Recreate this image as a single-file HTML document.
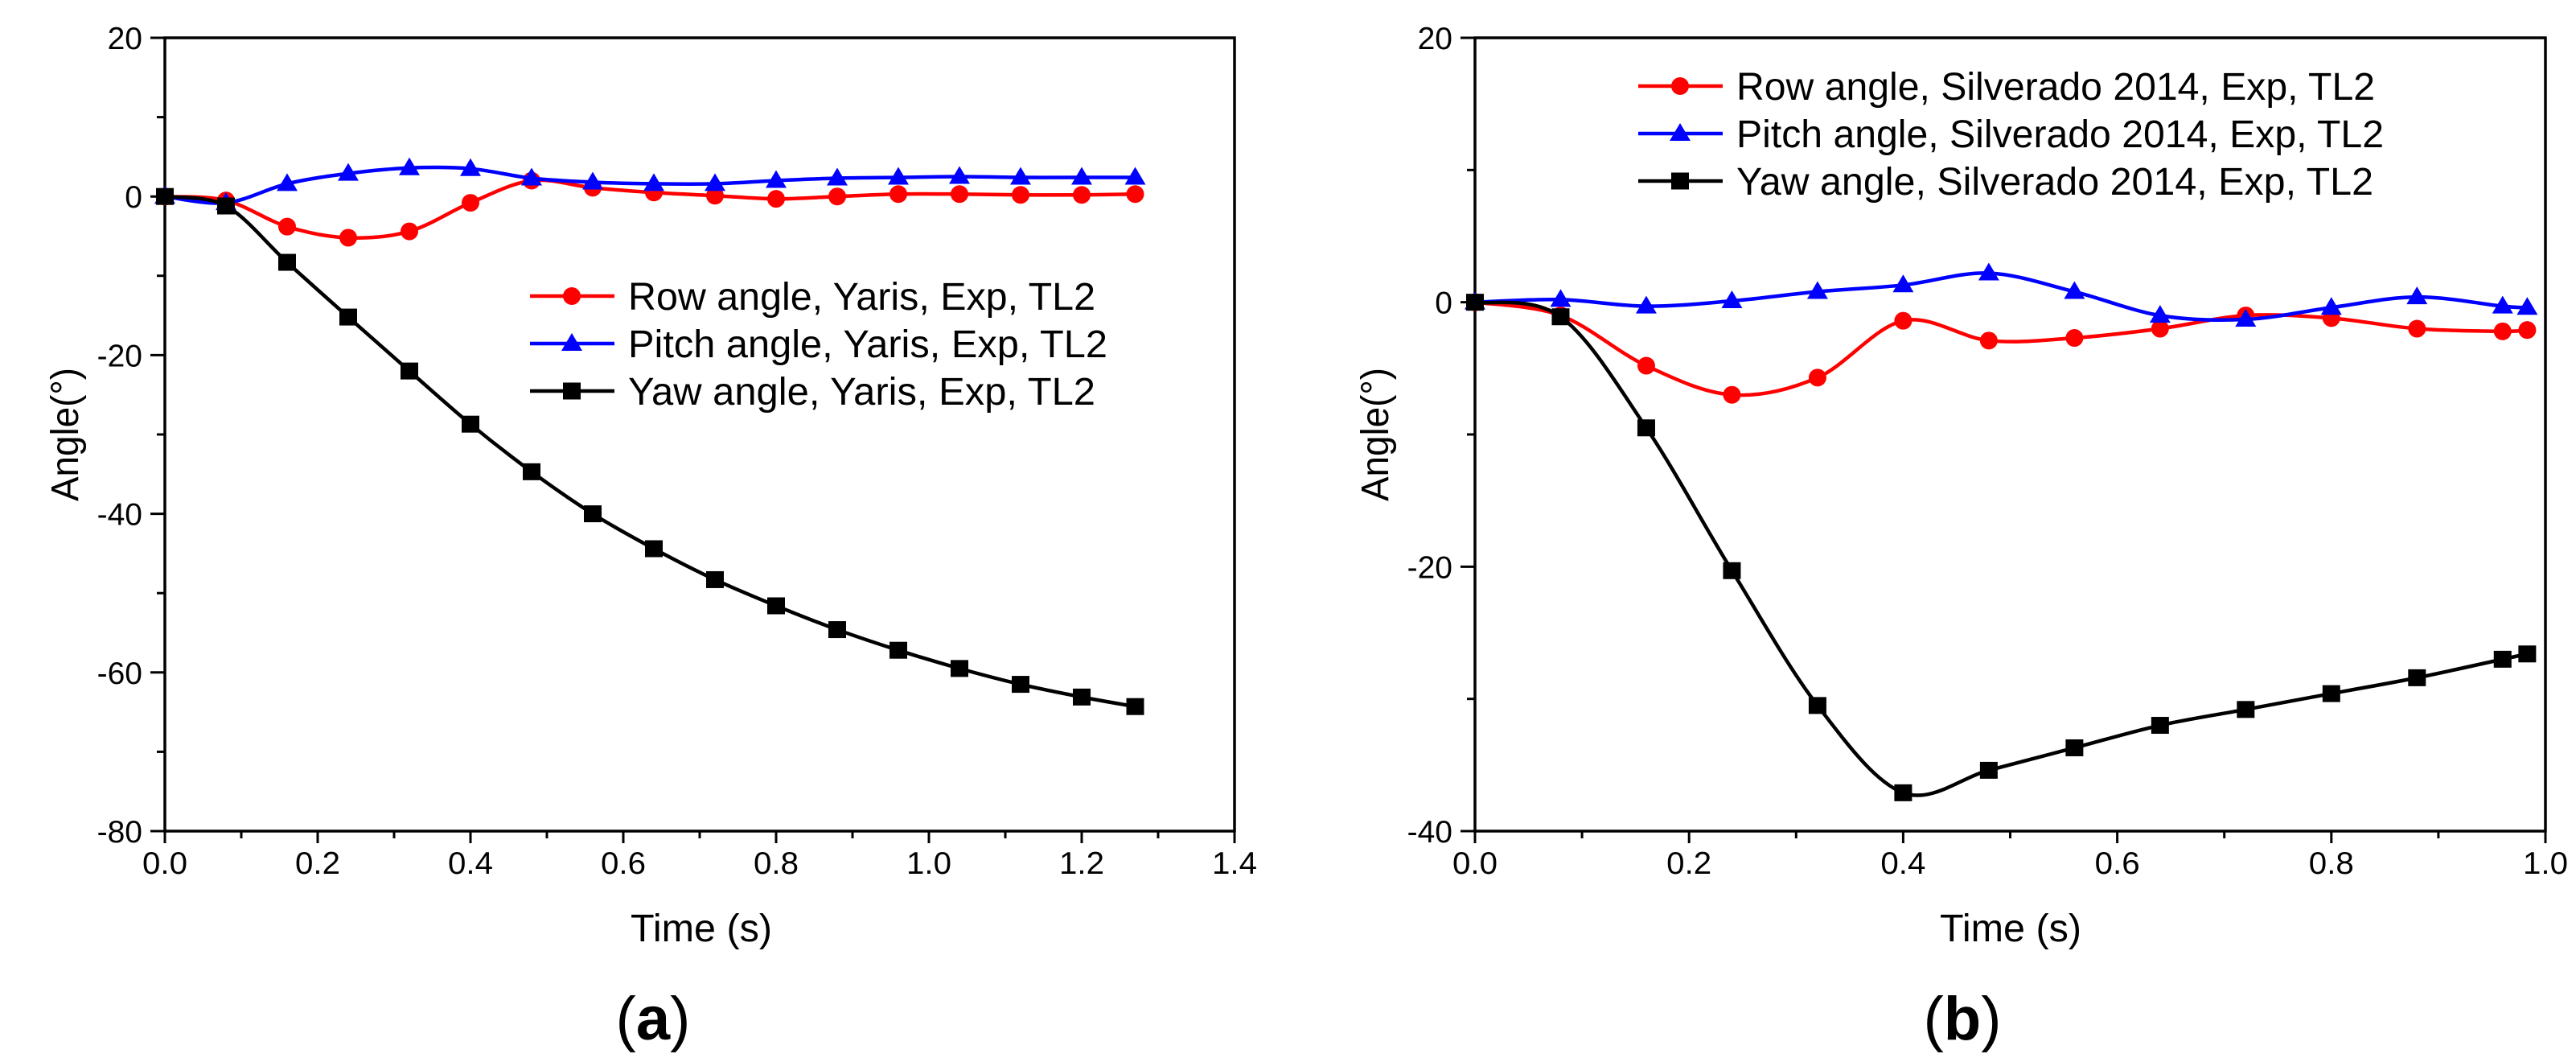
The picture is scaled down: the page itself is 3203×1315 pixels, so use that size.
<!DOCTYPE html>
<html><head><meta charset="utf-8"><style>
html,body{margin:0;padding:0;background:#fff;overflow:hidden}
svg{display:block}
text{font-family:"Liberation Sans",sans-serif}
</style></head><body>
<svg id="fig" width="3203" height="1315" viewBox="0 0 3203 1315" xmlns="http://www.w3.org/2000/svg"></svg>
<script>
// ---- Panel (a) data ----
const timesA = [0,0.08,0.16,0.24,0.32,0.40,0.48,0.56,0.64,0.72,0.80,0.88,0.96,1.04,1.12,1.20,1.27];
const rowA   = [0,-0.5,-3.8,-5.2,-4.4,-0.8,2.0,1.1,0.5,0.1,-0.3,0,0.3,0.3,0.2,0.2,0.3];
const pitchA = [0,-0.8,1.6,2.9,3.6,3.5,2.3,1.8,1.6,1.6,2.0,2.3,2.4,2.5,2.4,2.4,2.4];
const yawA   = [0,-1.2,-8.3,-15.2,-22.0,-28.7,-34.7,-40.0,-44.4,-48.3,-51.6,-54.6,-57.2,-59.5,-61.5,-63.1,-64.3];
const xTicksA = ["0.0","0.2","0.4","0.6","0.8","1.0","1.2","1.4"];
const yTicksA = ["20","0","-20","-40","-60","-80"];
const legendA = ["Row angle, Yaris, Exp, TL2","Pitch angle, Yaris, Exp, TL2","Yaw angle, Yaris, Exp, TL2"];
// ---- Panel (b) data ----
const timesB = [0,0.08,0.16,0.24,0.32,0.40,0.48,0.56,0.64,0.72,0.80,0.88,0.96,0.983];
const rowB   = [0,-1.0,-4.8,-7.0,-5.7,-1.4,-2.9,-2.7,-2.0,-1.0,-1.2,-2.0,-2.2,-2.1];
const pitchB = [0,0.2,-0.3,0.1,0.8,1.3,2.2,0.8,-1.0,-1.3,-0.4,0.4,-0.3,-0.4];
const yawB   = [0,-1.1,-9.5,-20.3,-30.5,-37.1,-35.4,-33.7,-32.0,-30.8,-29.6,-28.4,-27.0,-26.6];
const xTicksB = ["0.0","0.2","0.4","0.6","0.8","1.0"];
const yTicksB = ["20","0","-20","-40"];
const legendB = ["Row angle, Silverado 2014, Exp, TL2","Pitch angle, Silverado 2014, Exp, TL2","Yaw angle, Silverado 2014, Exp, TL2"];

const NS="http://www.w3.org/2000/svg";
const svg=document.getElementById('fig');
function mk(tag,attrs,parent){const e=document.createElementNS(NS,tag);for(const k in attrs)e.setAttribute(k,attrs[k]);(parent||svg).appendChild(e);return e;}
function smooth(pts){
  let d=`M${pts[0][0]},${pts[0][1]}`;
  for(let i=0;i<pts.length-1;i++){
    const p0=pts[Math.max(0,i-1)],p1=pts[i],p2=pts[i+1],p3=pts[Math.min(pts.length-1,i+2)];
    const c1=[p1[0]+(p2[0]-p0[0])/6,p1[1]+(p2[1]-p0[1])/6];
    const c2=[p2[0]-(p3[0]-p1[0])/6,p2[1]-(p3[1]-p1[1])/6];
    d+=` C${c1[0]},${c1[1]} ${c2[0]},${c2[1]} ${p2[0]},${p2[1]}`;
  }
  return d;
}
function marker(g,type,x,y,color){
  let m;
  if(type==='circle') m=mk('circle',{cx:x,cy:y,r:11,fill:color},g);
  else if(type==='tri') m=mk('polygon',{points:`${x},${y-13} ${x-13},${y+9} ${x+13},${y+9}`,fill:color},g);
  else m=mk('rect',{x:x-11,y:y-10.5,width:22,height:21,fill:color},g);
  return m;
}
function panel(cfg){
  const g=mk('g',{});
  
  
  const {L,R,T,B,xmax,ymin,ymax}=cfg;
  const X=v=>L+(v/xmax)*(R-L);
  const Y=v=>T+(ymax-v)/(ymax-ymin)*(B-T);
  const xt=mk('g',{},g);
  
  
  for(let v=0;v<=xmax+1e-9;v+=0.1){
    const major=Math.round(v*10)%2===0;
    mk('line',{x1:X(v),x2:X(v),y1:B,y2:B+(major?15:9),stroke:'#000','stroke-width':3},xt);
  }
  cfg.xt.forEach(s=>{
    const t=mk('text',{x:X(parseFloat(s)),y:1086,'font-size':39,'text-anchor':'middle',textLength:56,lengthAdjust:'spacingAndGlyphs'},xt);
    t.textContent=s;
  });
  const yt=mk('g',{},g);
  
  
  for(let v=ymin;v<=ymax;v+=10){
    const major=((v%20)+20)%20===0;
    mk('line',{x1:L,x2:L-(major?18:10),y1:Y(v),y2:Y(v),stroke:'#000','stroke-width':3},yt);
  }
  cfg.yt.forEach(s=>{
    const t=mk('text',{x:L-28,y:Y(parseFloat(s))+14,'font-size':39,'text-anchor':'end'},yt);
    t.textContent=s;
  });
  const fr=mk('rect',{x:L,y:T,width:R-L,height:B-T,fill:'none',stroke:'#000','stroke-width':3.5},g);
  
  
  const series=[
    {name:'row-angle-series',vals:cfg.row,color:'#ff0000',m:'circle'},
    {name:'pitch-angle-series',vals:cfg.pitch,color:'#0000ff',m:'tri'},
    {name:'yaw-angle-series',vals:cfg.yaw,color:'#000000',m:'square'}
  ];
  series.forEach(s=>{
    const sg=mk('g',{},g);
    
    
    const pts=cfg.t.map((tv,i)=>[X(tv),Y(s.vals[i])]);
    mk('path',{d:smooth(pts),fill:'none',stroke:s.color,'stroke-width':4.5},sg);
    pts.forEach(p=>{
      const m=marker(sg,s.m,p[0],p[1],s.color);
      
      
    });
  });
  const lg=mk('g',{},g);
  
  
  series.forEach((s,i)=>{
    const y=cfg.leg.y0+i*59;
    const e=mk('g',{},lg);
    
    
    mk('line',{x1:cfg.leg.x,x2:cfg.leg.x+105,y1:y,y2:y,stroke:s.color,'stroke-width':4.5},e);
    marker(e,s.m,cfg.leg.x+52,y,s.color);
    const t=mk('text',{x:cfg.leg.x+122,y:y+17,'font-size':48,textLength:cfg.leg.w[i],lengthAdjust:'spacingAndGlyphs'},e);
    t.textContent=cfg.legend[i];
  });
  const xtl=mk('text',{x:cfg.xtitle,y:1170,'font-size':48,'text-anchor':'middle',textLength:176,lengthAdjust:'spacingAndGlyphs'},g);
  xtl.textContent='Time (s)';
  
  
  const ytl=mk('text',{x:0,y:0,'font-size':48,'text-anchor':'middle',textLength:166,lengthAdjust:'spacingAndGlyphs',transform:`translate(${cfg.ytitle},540) rotate(-90)`},g);
  ytl.textContent='Angle(°)';
  
  
  const pl=mk('text',{x:cfg.lab,y:1292,'font-size':76,'text-anchor':'middle','font-family':'"Liberation Serif",serif'},g);
  pl.innerHTML='(<tspan font-weight="bold">'+cfg.letter+'</tspan>)';
  
  
}
panel({name:'chart-a',L:205,R:1535,T:47,B:1033,xmax:1.4,ymin:-80,ymax:20,t:timesA,row:rowA,pitch:pitchA,yaw:yawA,
  xt:xTicksA,yt:yTicksA,legend:legendA,leg:{x:659,y0:368,w:[581,596,581]},xtitle:872,ytitle:97,lab:812,letter:'a'});
panel({name:'chart-b',L:1834,R:3165,T:47,B:1033,xmax:1.0,ymin:-40,ymax:20,t:timesB,row:rowB,pitch:pitchB,yaw:yawB,
  xt:xTicksB,yt:yTicksB,legend:legendB,leg:{x:2037,y0:107,w:[794,805,792]},xtitle:2500,ytitle:1726,lab:2440,letter:'b'});
</script>
</body></html>
